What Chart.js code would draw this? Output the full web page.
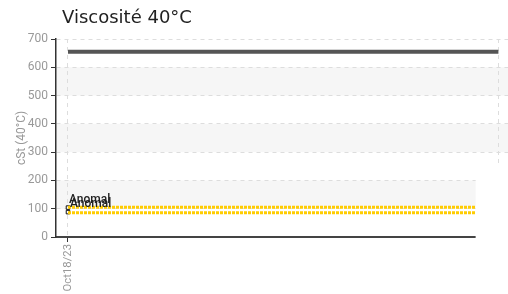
<!DOCTYPE html>
<html>
<head>
<meta charset="utf-8">
<script src="https://cdn.jsdelivr.net/npm/chart.js@4"></script>
<style>
  body { margin: 0; background: #fff; }
  #wrap { width: 508px; height: 294px; position: relative; }
</style>
</head>
<body>
<div id="wrap"><canvas id="viscChart"></canvas></div>
<script>
// Data
const chartTitle = "Viscosité 40°C";
const dateLabels = ["Oct18/23"];
const sampleX = [0];               // position of the sample date on the x axis
const historyEnd = 35.9;           // where the reference line stops
const limitEnd = 34;               // where the limit lines stop
const referenceValue = 655;        // dark line (cSt)
const limitHigh = 105;             // yellow dotted limits
const limitLow = 86;
const anomalyValues = [104, 88];
const anomalyLabels = ["Anomal", "Anomal"];
const bandRanges = [[100, 200], [300, 400], [500, 600]];
const yTicks = [0, 100, 200, 300, 400, 500, 600, 700];
const staleCut = 260;              // lower part of the plot that got redrawn narrower

// light grey bands behind the grid + title
const bandPlugin = {
  id: "bands",
  beforeDraw(chart) {
    const { ctx, chartArea, scales } = chart;
    ctx.save();
    ctx.fillStyle = "#f6f6f6";
    bandRanges.forEach(([lo, hi]) => {
      const yTop = scales.y.getPixelForValue(hi);
      const yBot = scales.y.getPixelForValue(lo);
      ctx.fillRect(chartArea.left, yTop, chartArea.right - chartArea.left, yBot - yTop);
    });
    // title, a little in from the axis
    ctx.font = "18px 'DejaVu Sans'";
    ctx.fillStyle = "#222";
    ctx.textAlign = "left";
    ctx.textBaseline = "alphabetic";
    ctx.fillText(chartTitle, chartArea.left + 6, 23);
    ctx.restore();
  },
  // the lower part of the plot stops earlier than the upper part
  beforeDatasetsDraw(chart) {
    const { ctx, chartArea, scales } = chart;
    const x0 = scales.x.getPixelForValue(limitEnd);
    const y0 = scales.y.getPixelForValue(staleCut);
    ctx.save();
    ctx.fillStyle = "#fff";
    ctx.fillRect(x0, y0, chart.width - x0, chartArea.bottom + 8 - y0);
    ctx.restore();
  },
};

// "Anomal" tags next to the sample points
const tagPlugin = {
  id: "tags",
  afterDatasetsDraw(chart) {
    const { ctx } = chart;
    const meta = chart.getDatasetMeta(3);
    ctx.save();
    ctx.font = "500 12px Roboto";
    ctx.fillStyle = "#222";
    ctx.textAlign = "left";
    ctx.textBaseline = "alphabetic";
    meta.data.forEach((pt, i) => {
      ctx.fillText(anomalyLabels[i], pt.x + 1 + i, pt.y - 5);
    });
    ctx.restore();
  },
};

const ctx = document.getElementById("viscChart").getContext("2d");
const viscChart = new Chart(ctx, {
  type: "line",
  data: {
    datasets: [
      {
        label: "Référence",
        data: [{ x: sampleX[0], y: referenceValue }, { x: historyEnd, y: referenceValue }],
        borderColor: "#555",
        borderWidth: 4,
        pointRadius: 0,
      },
      {
        label: "Limite haute",
        data: [{ x: sampleX[0], y: limitHigh }, { x: limitEnd, y: limitHigh }],
        borderColor: "#ffcc00",
        borderWidth: 3,
        borderDash: [3, 1],
        pointRadius: 0,
      },
      {
        label: "Limite basse",
        data: [{ x: sampleX[0], y: limitLow }, { x: limitEnd, y: limitLow }],
        borderColor: "#ffcc00",
        borderWidth: 3,
        borderDash: [3, 1],
        pointRadius: 0,
      },
      {
        label: "Anomal",
        data: anomalyValues.map((v) => ({ x: sampleX[0], y: v })),
        showLine: false,
        pointStyle: "rect",
        pointRadius: 2.5,
        pointBorderWidth: 1,
        pointBorderColor: "#111",
        pointBackgroundColor: "#fff",
      },
    ],
  },
  options: {
    responsive: true,
    maintainAspectRatio: false,
    animation: false,
    layout: { autoPadding: false, padding: { left: 0, right: 0, top: 39, bottom: 0 } },
    plugins: {
      legend: { display: false },
      tooltip: { enabled: false },
      title: { display: false },
    },
    scales: {
      x: {
        type: "linear",
        min: -1,
        max: 36.7,
        afterBuildTicks: (axis) => {
          axis.ticks = [{ value: sampleX[0] }, { value: historyEnd }];
        },
        afterFit: (axis) => {
          axis.height = 57;
          axis.paddingLeft = 0;
          axis.paddingRight = 0;
        },
        ticks: {
          autoSkip: false,
          maxRotation: 90,
          minRotation: 90,
          padding: 2,
          color: "#999",
          font: { family: "Roboto", size: 11.3 },
          callback: (v) => (v === sampleX[0] ? dateLabels[0] : ""),
        },
        grid: {
          color: "#ddd",
          tickColor: (c) => (c.index === 0 ? "#333" : "rgba(0,0,0,0)"),
          tickLength: 5,
        },
        border: { display: true, color: "#444", width: 2, dash: [4, 4] },
      },
      y: {
        min: 0,
        max: 700,
        afterBuildTicks: (axis) => {
          axis.ticks = yTicks.map((v) => ({ value: v }));
        },
        afterFit: (axis) => {
          axis.width = 56;
          axis.paddingTop = 0;
          axis.paddingBottom = 0;
        },
        ticks: {
          color: "#999",
          font: { family: "Roboto", size: 12 },
          padding: 3,
        },
        grid: {
          color: "#ddd",
          tickColor: "#333",
          tickLength: 5,
        },
        border: { display: true, color: "#333", width: 1.5, dash: [4, 4] },
        title: {
          display: true,
          text: "cSt (40°C)",
          color: "#999",
          font: { family: "Roboto", size: 12 },
          padding: { top: 15, bottom: 4 },
        },
      },
    },
  },
  plugins: [bandPlugin, tagPlugin],
});
</script>
</body>
</html>
